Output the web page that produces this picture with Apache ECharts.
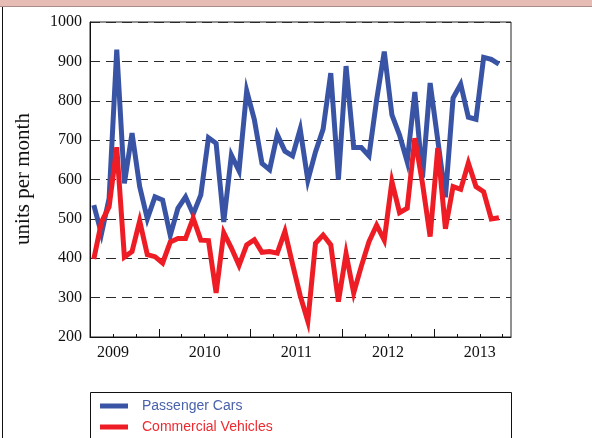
<!DOCTYPE html>
<html>
<head>
<meta charset="utf-8">
<script src="https://cdn.jsdelivr.net/npm/echarts@6/dist/echarts.min.js"></script>
<style>
html,body{margin:0;padding:0;background:#fff;}
#chart{width:592px;height:438px;}
</style>
</head>
<body>
<div id="chart"></div>
<script>
const months = [
  '2009-04','2009-05','2009-06','2009-07','2009-08','2009-09','2009-10','2009-11','2009-12',
  '2010-01','2010-02','2010-03','2010-04','2010-05','2010-06','2010-07','2010-08','2010-09','2010-10','2010-11','2010-12',
  '2011-01','2011-02','2011-03','2011-04','2011-05','2011-06','2011-07','2011-08','2011-09','2011-10','2011-11','2011-12',
  '2012-01','2012-02','2012-03','2012-04','2012-05','2012-06','2012-07','2012-08','2012-09','2012-10','2012-11','2012-12',
  '2013-01','2013-02','2013-03','2013-04','2013-05','2013-06','2013-07','2013-08','2013-09'
];
const passengerCars = [
  535, 462, 552, 930, 590, 718, 582, 500, 556,
  548, 458, 527, 556, 512, 561, 706, 692, 492, 662, 622, 825,
  752, 641, 625, 714, 672, 660, 728, 598, 670, 728, 870, 600,
  888, 681, 681, 660, 802, 925, 764, 713, 645, 822, 605, 845,
  700, 555, 807, 842, 758, 753, 910, 905, 893
];
const commercialVehicles = [
  398, 492, 531, 682, 403, 417, 495, 409, 404,
  388, 441, 450, 450, 502, 446, 445, 312, 465, 426, 382, 434,
  447, 415, 417, 413, 468, 385, 305, 240, 438, 459, 434, 290,
  412, 312, 380, 442, 484, 446, 595, 516, 527, 705, 590, 455,
  680, 475, 582, 575, 642, 582, 569, 500, 503
];
const yearLabels = ['2009','2010','2011','2012','2013'];
const seriesNames = ['Passenger Cars','Commercial Vehicles'];

function monthToX(m) {
  const [y, mo] = m.split('-').map(Number);
  return y + (mo - 0.5) / 12;
}
const xs = months.map(monthToX);
const blueData = xs.map((x, i) => [x, passengerCars[i]]);
const redData = xs.map((x, i) => [x, commercialVehicles[i]]);

const X_MIN = 2009.25, X_MAX = 2013.84;
const firstYear = Number(yearLabels[0]);
const labelVals = yearLabels.map(y => Number(y) + 0.5);
const quarterTicks = [];
for (let q = X_MIN; q <= X_MAX; q += 0.25) quarterTicks.push(q);
const yearTicks = yearLabels.slice(1).map(Number);

const BLUE = '#3a54a5';
const RED = '#ee1d25';
const serif = '"Liberation Serif","Times New Roman",serif';
const sans = '"Liberation Sans",Arial,sans-serif';

const chart = echarts.init(document.getElementById('chart'), null, {renderer: 'canvas'});
chart.setOption({
  animation: false,
  backgroundColor: '#fff',
  grid: {left: 90, right: 81, top: 22, bottom: 101, show: true, borderColor: '#222', borderWidth: 1, backgroundColor: 'transparent'},
  legend: {
    orient: 'vertical',
    left: 100,
    top: 399,
    height: 39,
    padding: 0,
    itemWidth: 28,
    itemHeight: 5,
    itemGap: 7,
    icon: 'rect',
    data: [
      {name: seriesNames[0], textStyle: {color: '#4a61ab'}},
      {name: seriesNames[1], textStyle: {color: '#ee2a30'}}
    ],
    textStyle: {fontFamily: sans, fontSize: 14, padding: [0, 0, 0, 9]}
  },
  xAxis: [{
    type: 'value',
    min: X_MIN,
    max: X_MAX,
    position: 'bottom',
    axisLine: {show: true, onZero: false, lineStyle: {color: '#111', width: 1}},
    axisTick: {show: true, inside: true, length: 3, customValues: quarterTicks, lineStyle: {color: '#111'}},
    axisLabel: {
      show: true,
      customValues: labelVals,
      formatter: v => yearLabels[Math.round(v - 0.5) - firstYear],
      fontFamily: serif, fontSize: 16, color: '#111', margin: 8
    },
    splitLine: {show: false}
  }, {
    type: 'value',
    min: X_MIN,
    max: X_MAX,
    position: 'top',
    offset: -315,
    axisLine: {show: false},
    axisTick: {show: true, inside: false, length: 8, customValues: yearTicks, lineStyle: {color: '#111'}},
    axisLabel: {show: false},
    splitLine: {show: false}
  }],
  yAxis: {
    type: 'value',
    min: 200,
    max: 1000,
    interval: 100,
    axisLine: {show: true, lineStyle: {color: '#111'}},
    axisTick: {show: false},
    axisLabel: {fontFamily: serif, fontSize: 16, color: '#111', margin: 8, formatter: v => String(v)},
    splitLine: {show: true, lineStyle: {color: '#2a2a2a', width: 1, type: [10, 6]}}
  },
  series: [{
    name: seriesNames[0],
    type: 'line',
    data: blueData,
    showSymbol: false,
    color: BLUE,
    lineStyle: {color: BLUE, width: 5, join: 'miter', miterLimit: 6},
    z: 2
  }, {
    name: seriesNames[1],
    type: 'line',
    data: redData,
    showSymbol: false,
    color: RED,
    lineStyle: {color: RED, width: 5, join: 'miter', miterLimit: 6},
    z: 3
  }],
  graphic: [
    {type: 'rect', shape: {x: 0, y: 0, width: 592, height: 6}, style: {fill: '#e6bcb4'}, silent: true},
    {type: 'line', shape: {x1: 0, y1: 6.5, x2: 592, y2: 6.5}, style: {stroke: '#a88a86', lineWidth: 1}, silent: true},
    {type: 'line', shape: {x1: 2.5, y1: 7, x2: 2.5, y2: 438}, style: {stroke: '#111', lineWidth: 1}, silent: true},
    {type: 'rect', shape: {x: 90.5, y: 392.5, width: 421, height: 60}, style: {fill: 'none', stroke: '#111', lineWidth: 1}, silent: true, z: -1},
    {type: 'text', x: 23, y: 179, rotation: Math.PI / 2,
     style: {text: 'units per month', font: '21px ' + serif, fill: '#111', textAlign: 'center', textVerticalAlign: 'middle'}, silent: true}
  ]
});
</script>
</body>
</html>
